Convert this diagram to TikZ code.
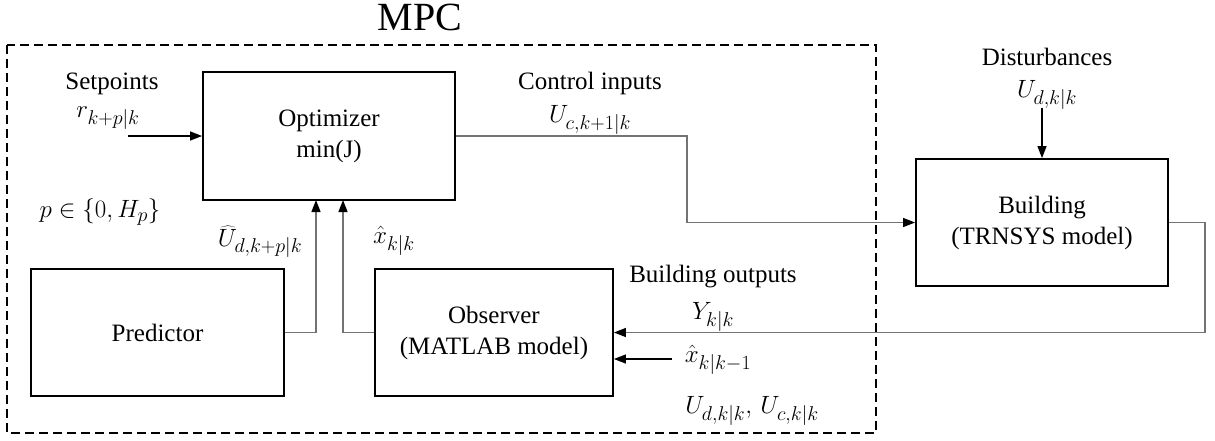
\RequirePackage{fix-cm}
\documentclass[tikz,border=0pt]{standalone}
\usepackage{fontspec}
\setmainfont{Liberation Serif}
\DeclareMathSizes{25}{25}{20}{16}
\usetikzlibrary{arrows.meta}
\begin{document}
\begin{tikzpicture}[x=1pt,y=-1pt,
  font=\rmfamily\fontsize{25}{31}\selectfont,
  blk/.style={draw, line width=1.8pt, inner sep=0pt, align=center},
  lbl/.style={inner sep=0pt, align=center},
  tip/.style={-{Triangle[length=12pt,width=9pt,color=black]}},
  wire/.style={line width=1.2pt, draw=black},
  gwire/.style={line width=1.3pt, draw=black!55},
]
\useasboundingbox (0,0) rectangle (1215,440);

% MPC frame
\draw[line width=1.8pt, dash pattern=on 9pt off 5pt] (7,45) rectangle (876,433);
\node[lbl, font=\rmfamily\fontsize{40}{44}\selectfont] (mpc) at (420,17) {MPC};

% blocks
\node[blk, minimum width=252pt, minimum height=128pt] (opt) at (329,136) {Optimizer\\min(J)};
\node[blk, minimum width=253pt, minimum height=127pt] (pred) at (157.5,332.5) {Predictor};
\node[blk, minimum width=238pt, minimum height=127pt] (obs) at (494,332.5) {Observer\\(MATLAB model)};
\node[blk, minimum width=252pt, minimum height=127pt] (bld) at (1042,222.5) {Building\\(TRNSYS model)};

% labels
\node[lbl] (setp) at (112,84) {Setpoints};
\node[lbl] (rlab) at (108,118) {$r_{k+p|k}$};
\node[lbl] (plab) at (100,212) {$p \in \{0,H_p\}$};
\node[lbl] (ulab) at (260,242) {$\widehat{U}_{d,k+p|k}$};
\node[lbl] (xlab) at (394,241) {$\hat{x}_{k|k}$};
\node[lbl] (ctl) at (590,83) {Control inputs};
\node[lbl] (uclab) at (590,120) {$U_{c,k+1|k}$};
\node[lbl] (dist) at (1047,57) {Disturbances};
\node[lbl] (udlab) at (1047,95) {$U_{d,k|k}$};
\node[lbl] (bout) at (713,277) {Building outputs};
\node[lbl] (ylab) at (713,317) {$Y_{k|k}$};
\node[lbl] (xplab) at (718,360) {$\hat{x}_{k|k-1}$};
\node[lbl] (uulab) at (752,411) {$U_{d,k|k},\,U_{c,k|k}$};

% connector anchors
\coordinate (sp) at (128,136);
\coordinate (ua) at (316,200);
\coordinate (xa) at (343,200);
\coordinate (cbend) at (687,180);
\coordinate (dtop) at (1042,108);
\coordinate (fb) at (1205,280);
\coordinate (xp) at (672,359);

% connectors
\draw[wire, tip] (sp) -- (opt.west);
\draw[gwire, tip] (pred.east) -| (ua);
\draw[gwire, tip] (obs.west) -| (xa);
\draw[gwire, tip] (opt.east) -| (cbend) |- (bld.west);
\draw[wire, tip] (dtop) -- (bld.north);
\draw[gwire, tip] (bld.east) -| (fb) |- (obs.east);
\draw[wire, tip] (xp) -- (obs.east |- xp);
\end{tikzpicture}
\end{document}
